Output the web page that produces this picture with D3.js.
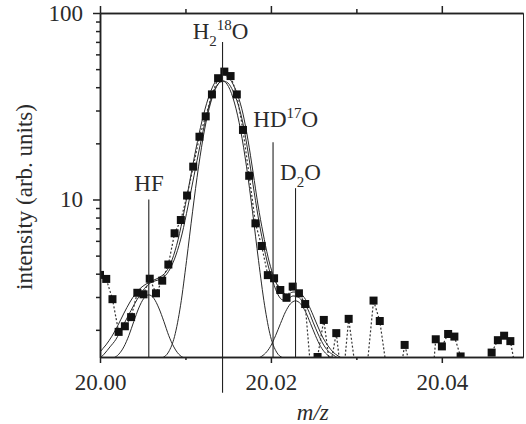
<!DOCTYPE html>
<html>
<head>
<meta charset="utf-8">
<script src="https://cdn.jsdelivr.net/npm/d3@7"></script>
<style>
  body { margin: 0; background: #fff; }
  svg text { font-family: "Liberation Serif", "Times New Roman", serif; fill: #2b2b2b; }
</style>
</head>
<body>
<svg id="chart" width="526" height="424"></svg>
<script>
// measured spectrum (m/z, intensity in arb. units)
const massToCharge = [
  20.00000, 20.00073, 20.00146, 20.00218, 20.00291, 20.00364, 20.00437, 20.00509, 20.00582, 20.00655,
  20.00728, 20.00800, 20.00873, 20.00946, 20.01019, 20.01091, 20.01164, 20.01237, 20.01310, 20.01382,
  20.01455, 20.01528, 20.01601, 20.01673, 20.01746, 20.01819, 20.01892, 20.01964, 20.02037, 20.02110,
  20.02183, 20.02255, 20.02328, 20.02401, 20.02474, 20.02546, 20.02619, 20.02692, 20.02765, 20.02837,
  20.02910, 20.02983, 20.03056, 20.03128, 20.03201, 20.03274, 20.03347, 20.03419, 20.03492, 20.03565,
  20.03638, 20.03710, 20.03783, 20.03856, 20.03929, 20.04001, 20.04074, 20.04147, 20.04220, 20.04292,
  20.04365, 20.04438, 20.04511, 20.04583, 20.04656, 20.04729, 20.04802, 20.04874, 20.04947
];
const intensity = [
  3.94, 3.75, 2.92, 1.95, 2.09, 2.34, 3.16, 3.10, 3.76, 3.14,
  3.67, 4.48, 6.59, 7.76, 10.5, 15.0, 21.7, 27.9, 36.6, 44.7,
  48.5, 45.9, 36.6, 23.6, 13.4, 7.45, 5.63, 3.93, 3.78, 3.27,
  2.97, 3.41, 3.14, 2.75, 1.10, 1.43, 2.26, 1.25, 1.92, 1.00,
  2.29, 1.30, 1.00, 1.30, 2.87, 2.23, 1.30, 1.00, 1.00, 1.66,
  1.25, 1.10, 1.10, 0.70, 1.78, 1.63, 1.90, 1.84, 1.44, 0.90,
  0.80, 0.80, 0.90, 1.51, 1.76, 1.86, 1.74, 1.16, 1.00
];

// total fit curves
const fitAMz = [
  19.99977, 20.00047, 20.00117, 20.00187, 20.00257, 20.00328, 20.00398, 20.00468, 20.00538, 20.00609,
  20.00679, 20.00749, 20.00819, 20.00889, 20.00960, 20.01030, 20.01100, 20.01170, 20.01241, 20.01311,
  20.01381, 20.01439, 20.01498, 20.01556, 20.01615, 20.01674, 20.01732, 20.01791, 20.01849, 20.01908,
  20.01966, 20.02025, 20.02084, 20.02142, 20.02201, 20.02259, 20.02318, 20.02376, 20.02435, 20.02493,
  20.02552, 20.02610, 20.02669, 20.02727, 20.02786, 20.02856
];
const fitAInt = [
  1.38, 1.48, 1.62, 1.78, 2.05, 2.37, 2.72, 3.08, 3.40, 3.61,
  3.70, 3.84, 4.24, 5.04, 6.53, 9.23, 13.4, 19.4, 27.4, 35.9,
  41.6, 43.2, 42.1, 38.2, 32.5, 25.4, 18.0, 12.0, 8.16, 5.85,
  4.45, 3.61, 3.08, 2.89, 2.93, 3.04, 3.00, 2.82, 2.56, 2.20,
  1.90, 1.68, 1.54, 1.47, 1.41, 1.38
];
const fitBMz = [
  19.99953, 20.00000, 20.00070, 20.00140, 20.00211, 20.00281, 20.00351, 20.00421, 20.00492, 20.00562,
  20.00632, 20.00702, 20.00772, 20.00843, 20.00913, 20.00983, 20.01053, 20.01123, 20.01194, 20.01264,
  20.01334, 20.01393, 20.01445, 20.01498, 20.01556, 20.01615, 20.01674, 20.01732, 20.01791, 20.01849,
  20.01908, 20.01966, 20.02025, 20.02084, 20.02142, 20.02201, 20.02259, 20.02318, 20.02376, 20.02435,
  20.02493, 20.02552, 20.02610, 20.02669, 20.02727, 20.02786, 20.02844, 20.02902
];
const fitBInt = [
  1.41, 1.52, 1.66, 1.85, 2.12, 2.46, 2.82, 3.15, 3.40, 3.57,
  3.70, 3.84, 4.09, 4.74, 6.07, 8.57, 12.7, 18.7, 26.4, 34.6,
  41.6, 45.4, 46.5, 45.4, 41.6, 35.9, 28.7, 20.8, 14.0, 9.34,
  6.61, 4.92, 3.94, 3.40, 3.15, 3.11, 3.19, 3.19, 3.04, 2.75,
  2.40, 2.07, 1.81, 1.64, 1.52, 1.45, 1.40, 1.37
];

// single peak components
const hfMz = [
  20.00045, 20.00103, 20.00162, 20.00220, 20.00279, 20.00337, 20.00396, 20.00454, 20.00513, 20.00571,
  20.00630, 20.00688, 20.00747, 20.00805, 20.00864, 20.00922, 20.00981, 20.01039, 20.01098
];
const hfInt = [
  1.382, 1.391, 1.416, 1.48, 1.62, 1.86, 2.22, 2.62, 2.95, 3.08,
  2.95, 2.62, 2.22, 1.86, 1.62, 1.48, 1.416, 1.391, 1.382
];
const h2oMz = [
  20.00662, 20.00732, 20.00802, 20.00872, 20.00943, 20.01013, 20.01083, 20.01153, 20.01223, 20.01294,
  20.01364, 20.01434, 20.01504, 20.01574, 20.01645, 20.01715, 20.01785, 20.01855, 20.01926, 20.01996,
  20.02066, 20.02136, 20.02206
];
const h2oInt = [
  1.388, 1.417, 1.52, 1.84, 2.71, 4.71, 8.59, 14.96, 23.6, 32.9,
  40.3, 43.2, 40.3, 32.9, 23.6, 14.96, 8.59, 4.71, 2.71, 1.84,
  1.52, 1.417, 1.388
];
const d2oMz = [
  20.01761, 20.01820, 20.01878, 20.01937, 20.01995, 20.02054, 20.02112, 20.02171, 20.02229, 20.02288,
  20.02347, 20.02405, 20.02464, 20.02522, 20.02581, 20.02639, 20.02698, 20.02756, 20.02815
];
const d2oInt = [
  1.385, 1.396, 1.43, 1.50, 1.63, 1.86, 2.16, 2.50, 2.76, 2.86,
  2.76, 2.50, 2.16, 1.86, 1.63, 1.50, 1.43, 1.396, 1.385
];

// peak assignments
const peakMz = [20.00571, 20.01434, 20.02025, 20.02288];
const peakLineTop = [10.0, 69.9, 20.3, 11.5];
const peakLineBottom = [1.43, 0.92, 1.43, 1.43];
const labelMz = [20.00401, 20.01085, 20.01794, 20.02107];
const labelInt = [11.1, 72.5, 24.6, 12.7];
// text pieces: 0 = normal, 1 = subscript, -1 = superscript
const labelParts = [
  [["HF", 0]],
  [["H", 0], ["2", 1], ["18", -1], ["O", 0]],
  [["HD", 0], ["17", -1], ["O", 0]],
  [["D", 0], ["2", 1], ["O", 0]],
];

const xMajor = [20.00, 20.02, 20.04];
const xMinor = [20.01, 20.03];
const yMajor = [10, 100];
const yMinor = [2, 3, 4, 5, 6, 7, 8, 9, 20, 30, 40, 50, 60, 70, 80, 90];

const svg = d3.select("#chart");
const margin = { top: 13, right: 3, bottom: 67, left: 100 };
const width = 526 - margin.left - margin.right;
const height = 424 - margin.top - margin.bottom;

const x = d3.scaleLinear().domain([20.0, 20.0495]).range([0, width]);
const y = d3.scaleLog().domain([1.43, 100]).range([height, 0]);

const chart = svg.append("g")
  .attr("transform", `translate(${margin.left}, ${margin.top})`);

chart.append("clipPath")
  .attr("id", "plot-clip")
  .append("rect")
  .attr("width", width)
  .attr("height", height);

const plot = chart.append("g").attr("clip-path", "url(#plot-clip)");

const line = d3.line()
  .x(d => x(d[0]))
  .y(d => y(d[1]))
  .curve(d3.curveMonotoneX);

// fitted curves
[[fitAMz, fitAInt], [fitBMz, fitBInt], [hfMz, hfInt], [h2oMz, h2oInt], [d2oMz, d2oInt]]
  .forEach(([mzs, ints]) => {
    plot.append("path")
      .attr("d", line(d3.zip(mzs, ints)))
      .attr("fill", "none")
      .attr("stroke", "#2a2a2a")
      .attr("stroke-width", 1);
  });

// measured points joined by a dotted line
const points = d3.zip(massToCharge, intensity);
plot.append("path")
  .attr("d", d3.line().x(d => x(d[0])).y(d => y(d[1]))(points))
  .attr("fill", "none")
  .attr("stroke", "#333")
  .attr("stroke-width", 1.2)
  .attr("stroke-dasharray", "2,2");

const size = 8;
plot.selectAll(".pt")
  .data(points)
  .enter()
  .append("rect")
  .attr("class", "pt")
  .attr("x", d => x(d[0]) - size / 2)
  .attr("y", d => y(d[1]) - size / 2)
  .attr("width", size)
  .attr("height", size)
  .attr("fill", "#111");

// peak marker lines and labels
peakMz.forEach((m, i) => {
  chart.append("line")
    .attr("x1", x(m)).attr("x2", x(m))
    .attr("y1", y(peakLineTop[i])).attr("y2", y(peakLineBottom[i]))
    .attr("stroke", "#222")
    .attr("stroke-width", 1.1);

  const t = chart.append("text")
    .attr("x", x(labelMz[i]))
    .attr("y", y(labelInt[i]))
    .style("font-size", "23px");
  let shift = 0;
  labelParts[i].forEach(([s, pos]) => {
    const target = pos === 1 ? 7 : pos === -1 ? -9 : 0;
    t.append("tspan")
      .attr("dy", target - shift)
      .style("font-size", pos === 0 ? "23px" : "15px")
      .text(s);
    shift = target;
  });
});

// axes
function styleAxis(g) {
  g.selectAll("path, line").attr("stroke", "#222").attr("stroke-width", 1.5);
  g.selectAll("text").attr("fill", "#2b2b2b").style("font-size", "23px")
    .style("font-family", "'Liberation Serif', 'Times New Roman', serif");
}

chart.append("g")
  .attr("transform", `translate(0, ${height})`)
  .call(d3.axisBottom(x).tickValues(xMajor).tickFormat(d3.format(".2f")).tickSize(6).tickSizeOuter(0).tickPadding(11))
  .call(styleAxis);
chart.append("g")
  .attr("transform", `translate(0, ${height})`)
  .call(d3.axisBottom(x).tickValues(xMinor).tickFormat("").tickSize(3).tickSizeOuter(0))
  .call(styleAxis);

chart.append("g")
  .call(d3.axisTop(x).tickValues(xMajor).tickFormat("").tickSize(7).tickSizeOuter(0))
  .call(styleAxis);
chart.append("g")
  .call(d3.axisTop(x).tickValues(xMinor).tickFormat("").tickSize(4).tickSizeOuter(0))
  .call(styleAxis);

chart.append("g")
  .call(d3.axisLeft(y).tickValues(yMajor).tickFormat(d3.format("d")).tickSize(7).tickSizeOuter(0).tickPadding(10))
  .call(styleAxis);
chart.append("g")
  .call(d3.axisLeft(y).tickValues(yMinor).tickFormat("").tickSize(4).tickSizeOuter(0))
  .call(styleAxis);

chart.append("g")
  .attr("transform", `translate(${width}, 0)`)
  .call(d3.axisRight(y).tickValues([]).tickSizeOuter(0))
  .call(styleAxis)
  .selectAll("path").attr("stroke-width", 1);

// axis titles
chart.append("text")
  .attr("x", x(20.0249))
  .attr("y", height + 63)
  .attr("text-anchor", "middle")
  .style("font-size", "23px")
  .style("font-style", "italic")
  .text("m/z");

chart.append("text")
  .attr("transform", `translate(${32 - margin.left}, ${197 - margin.top}) rotate(-90)`)
  .attr("text-anchor", "middle")
  .style("font-size", "23px")
  .text("intensity (arb. units)");
</script>
</body>
</html>
